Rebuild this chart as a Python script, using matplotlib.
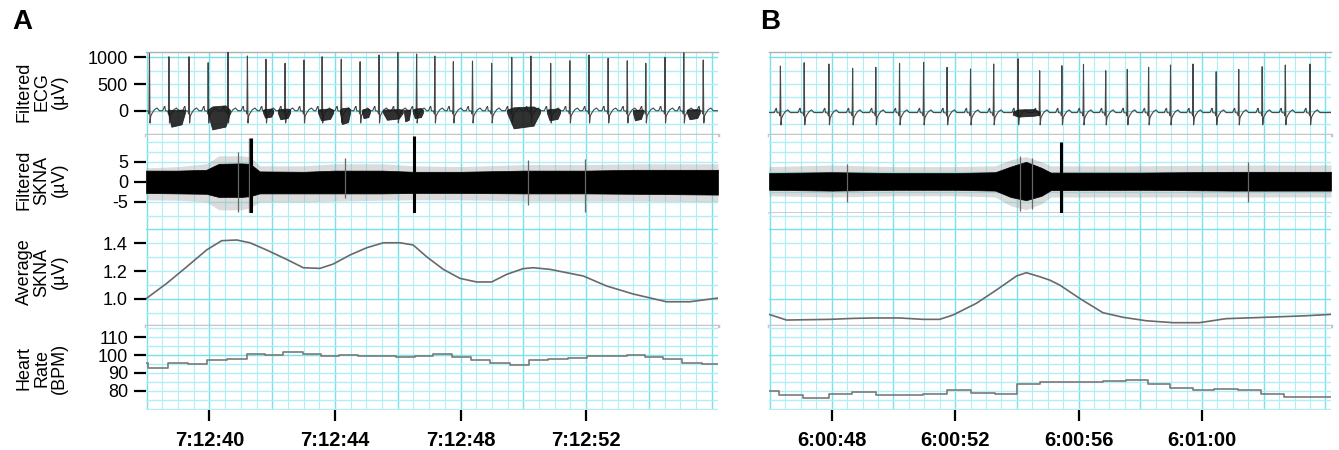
import numpy as np
import matplotlib.pyplot as plt

plt.rcParams['font.family'] = ['Liberation Sans', 'DejaVu Sans']

# ---------------- data (seconds after 7:12:00 for A, after 6:00:00 for B) ----------------
a_xlim = (37.98, 56.2)
b_xlim = (45.97, 64.18)

# R-peak times and R amplitudes (uV)
a_beats = [38.09, 38.71, 39.35, 39.96, 40.59, 41.21, 41.80, 42.41, 43.01, 43.59,
           44.20, 44.80, 45.40, 46.00, 46.60, 47.18, 47.77, 48.38, 48.99, 49.63,
           50.24, 50.87, 51.48, 52.09, 52.70, 53.31, 53.90, 54.51, 55.11, 55.73]
a_r_amp = [1075, 1011, 1011, 899, 1105, 1025, 963, 888, 950, 1011,
           963, 918, 1043, 1105, 1062, 1025, 918, 931, 888, 1000,
           1025, 888, 936, 1043, 981, 936, 888, 1000, 1086, 950]
b_beats = [46.34, 47.11, 47.91, 48.68, 49.43, 50.20, 50.98, 51.74, 52.50, 53.25,
           54.04, 54.74, 55.46, 56.16, 56.88, 57.58, 58.27, 58.98, 59.71, 60.46,
           61.19, 61.95, 62.70, 63.50]
b_r_amp = [837, 899, 875, 794, 813, 888, 907, 813, 781, 875,
           974, 749, 843, 869, 749, 775, 813, 856, 875, 730,
           775, 824, 856, 875]
a_ecg_base = 0
b_ecg_base = -35

# beat shape: offset from R (s) and level (uV); None = R peak
qrs_dt = [-0.20, -0.15, -0.13, -0.11, -0.03, -0.015, 0.0, 0.018, 0.04, 0.09, 0.16, 0.24, 0.32]
qrs_uv = [0, 70, 80, 0, -10, -60, None, -230, -100, -40, 20, 50, 0]

# noisy ECG stretches: start, end, low, high (uV)
a_ecg_noise = [(38.68, 39.22, -300, 20), (39.95, 40.65, -350, 100), (41.71, 42.03, -130, 40),
               (42.18, 42.57, -160, 40), (43.46, 43.94, -180, 40), (44.16, 44.48, -250, 60),
               (44.86, 45.11, -140, 40), (45.53, 46.16, -170, 30), (46.20, 46.39, -200, 20),
               (46.48, 46.80, -140, 50), (49.48, 50.53, -330, 80), (50.75, 51.17, -180, 40),
               (53.49, 53.81, -180, 20), (55.21, 55.62, -160, 30)]
b_ecg_noise = [(53.87, 54.74, -110, 30)]

# filtered SKNA envelopes (uV): dense core and outer spikes
a_skna_t = [37.98, 39.0, 39.9, 40.3, 41.0, 41.3, 41.6, 43.0, 44.0, 45.5, 46.5, 48.0, 50.0, 52.0, 53.5, 56.2]
a_core_hi = [2.8, 2.8, 3.0, 4.5, 4.6, 4.5, 2.6, 2.5, 2.8, 2.8, 2.5, 2.5, 2.8, 2.8, 3.0, 3.0]
a_core_lo = [-2.8, -2.9, -3.0, -3.8, -3.8, -3.6, -2.9, -2.9, -2.9, -2.9, -2.8, -2.8, -2.9, -2.9, -3.0, -3.2]
a_out_hi = [3.5, 3.8, 4.5, 6.5, 6.5, 6.3, 4.0, 4.0, 4.5, 4.5, 4.0, 3.8, 4.3, 4.3, 4.5, 4.5]
a_out_lo = [-4.5, -4.6, -5.0, -7.0, -7.0, -6.5, -5.0, -5.0, -4.8, -4.6, -4.5, -4.5, -4.8, -4.8, -4.8, -5.0]
a_spike_t = [41.32, 46.52]
a_spike_hi = [10.9, 11.5]
a_spike_lo = [-7.8, -7.8]
a_thin_t = [40.9, 41.25, 44.32, 50.14, 51.96]
a_thin_hi = [7.5, 11.0, 6.0, 5.4, 5.8]
a_thin_lo = [-7.5, -7.8, -4.0, -5.8, -7.5]

b_skna_t = [45.97, 48.0, 50.0, 52.0, 53.3, 53.8, 54.3, 54.8, 55.1, 58.0, 61.0, 64.18]
b_core_hi = [2.2, 2.4, 2.2, 2.2, 2.4, 3.8, 5.0, 3.5, 2.3, 2.3, 2.5, 2.5]
b_core_lo = [-2.0, -2.2, -2.0, -2.0, -2.2, -3.8, -4.6, -3.5, -2.1, -2.0, -2.2, -2.2]
b_out_hi = [3.8, 4.2, 3.8, 3.8, 4.0, 5.5, 6.3, 5.0, 4.0, 4.0, 4.2, 4.2]
b_out_lo = [-3.5, -3.8, -3.5, -3.5, -3.8, -6.0, -7.0, -5.5, -3.8, -3.8, -3.8, -3.8]
b_spike_t = [55.44]
b_spike_hi = [10.0]
b_spike_lo = [-7.75]
b_thin_t = [48.5, 54.1, 54.5, 61.5]
b_thin_hi = [4.5, 6.5, 6.0, 5.0]
b_thin_lo = [-5.0, -7.3, -6.8, -5.0]

# average SKNA (uV)
a_avg_t = [37.98, 38.64, 39.28, 39.91, 40.39, 40.87, 41.29, 41.82, 42.46, 42.99, 43.52, 43.94,
           44.48, 45.01, 45.54, 46.07, 46.49, 46.92, 47.45, 47.98, 48.51, 48.99, 49.47, 49.99,
           50.31, 50.85, 51.91, 52.65, 53.5, 54.56, 55.3, 56.2]
a_avg_v = [1.0, 1.111, 1.231, 1.352, 1.419, 1.424, 1.404, 1.352, 1.284, 1.224, 1.219, 1.25,
           1.316, 1.368, 1.404, 1.404, 1.388, 1.303, 1.212, 1.147, 1.121, 1.121, 1.176, 1.217,
           1.224, 1.212, 1.164, 1.092, 1.034, 0.978, 0.978, 1.005]
b_avg_t = [45.97, 46.54, 47.94, 48.70, 49.35, 50.21, 50.96, 51.50, 51.93, 52.69, 53.34, 53.99,
           54.31, 54.74, 55.06, 55.39, 56.03, 56.79, 57.44, 58.19, 59.06, 59.92, 60.78, 62.08,
           63.37, 64.18]
b_avg_v = [0.887, 0.846, 0.851, 0.858, 0.861, 0.861, 0.851, 0.851, 0.882, 0.967, 1.063, 1.164,
           1.188, 1.159, 1.135, 1.099, 1.003, 0.899, 0.866, 0.841, 0.827, 0.827, 0.856, 0.866,
           0.877, 0.887]

# heart rate (BPM), step changes at each beat
a_hr_edges = [37.98, 38.05, 38.69, 39.33, 39.93, 40.55, 41.19, 41.77, 42.35, 42.97, 43.54,
              44.14, 44.74, 45.94, 46.55, 47.13, 47.73, 48.33, 48.94, 49.57, 50.18, 50.78,
              51.42, 52.02, 52.66, 53.30, 53.87, 54.45, 55.05, 55.69, 56.2]
a_hr = [95.5, 93.0, 95.8, 94.9, 97.0, 97.8, 100.4, 100.0, 101.5, 100.4, 99.2, 100.2, 99.6,
        99.0, 99.7, 100.4, 98.9, 97.0, 95.8, 94.4, 97.0, 97.8, 98.5, 99.2, 99.6, 100.0, 98.9,
        97.8, 95.5, 95.1]
b_hr_edges = [45.97, 46.30, 47.08, 47.91, 48.65, 49.43, 50.96, 51.75, 52.50, 53.28, 54.02,
              54.74, 56.79, 57.55, 58.25, 58.95, 59.70, 60.40, 61.16, 61.91, 62.66, 64.18]
b_hr = [79.6, 77.7, 75.8, 78.1, 79.2, 77.7, 78.4, 80.3, 79.0, 78.1, 83.7, 85.0, 85.7, 86.3,
        83.9, 81.8, 80.3, 81.1, 80.3, 78.4, 76.4]

a_xticks = [40, 44, 48, 52]
a_xlabels = ['7:12:40', '7:12:44', '7:12:48', '7:12:52']
b_xticks = [48, 52, 56, 60]
b_xlabels = ['6:00:48', '6:00:52', '6:00:56', '6:01:00']

row_names = ['Filtered\nECG\n(µV)', 'Filtered\nSKNA\n(µV)', 'Average\nSKNA\n(µV)', 'Heart\nRate\n(BPM)']
row_ticks = [[0, 500, 1000], [-5, 0, 5], [1.0, 1.2, 1.4], [80, 90, 100, 110]]
row_ticklabels = [['0', '500', '1000'], ['-5', '0', '5'], ['1.0', '1.2', '1.4'], ['80', '90', '100', '110']]
row_ylim = [(-455, 1100), (-7.8, 11.7), (0.803, 1.619), (69.2, 116.3)]
row_hgrid = [[-250, 0, 250, 500, 750, 1000], [-5, -2.5, 0, 2.5, 5, 7.5, 10],
             [0.9, 1.0, 1.1, 1.2, 1.3, 1.4, 1.5, 1.6], [70, 75, 80, 85, 90, 95, 100, 105, 110, 115]]
row_hmajor = [[0, 1000], [0], [1.0, 1.5], [100]]

# ---------------- figure ----------------
W, H = 1339, 450
fig = plt.figure(figsize=(W / 100, H / 100), dpi=100)
rows_px = [(52, 135), (135, 213), (213, 326), (326, 410)]
grid_minor = '#aeeef4'
grid_major = '#7ae0ea'
sep_gray = '#c6c6c6'


def make_axes(x0, w):
    axes = []
    for top, bot in rows_px:
        ax = fig.add_axes([x0 / W, 1 - bot / H, w / W, (bot - top) / H])
        for s in ax.spines.values():
            s.set_visible(False)
        ax.set_xticks([])
        ax.set_yticks([])
        axes.append(ax)
    return axes


def draw_grid(ax, xlim, hvals, hmaj):
    t = np.arange(np.ceil(xlim[0] * 2) / 2, xlim[1], 0.5)
    for x in t:
        major = abs(x / 2 - round(x / 2)) < 1e-6
        ax.axvline(x, color=grid_major if major else grid_minor, lw=1.0 if major else 0.8, zorder=0)
    for y in hvals:
        ax.axhline(y, color=grid_major if y in hmaj else grid_minor, lw=1.0, zorder=0)


def build_ecg(beats, amps, base, xlim):
    ts, vs = [xlim[0]], [base]
    for b, a in zip(beats, amps):
        for dt, uv in zip(qrs_dt, qrs_uv):
            tt = b + dt
            if xlim[0] < tt < xlim[1]:
                ts.append(tt)
                vs.append(a if uv is None else base + uv)
    ts.append(xlim[1])
    vs.append(base)
    return ts, vs


def draw_panel(x0, w, xlim, beats, amps, base, noise, sk_t, c_hi, c_lo, o_hi, o_lo,
               sp_t, sp_hi, sp_lo, th_t, th_hi, th_lo, avg_t, avg_v, hr_edges, hr,
               xticks, xlabels, labels, mid_sep):
    axes = make_axes(x0, w)
    for i, ax in enumerate(axes):
        ax.set_xlim(*xlim)
        ax.set_ylim(*row_ylim[i])
        draw_grid(ax, xlim, row_hgrid[i], row_hmajor[i])

    ecg, skna, avg, hrax = axes
    # ECG
    ts, vs = build_ecg(beats, amps, base, xlim)
    ecg.plot(ts, vs, color='#474747', lw=0.8, zorder=3)
    for t0, t1, lo, hi in noise:
        d = (t1 - t0) * 0.2
        tt = [t0, t0 + d, t1 - d, t1]
        lo_c = [base - 40, lo, lo * 0.85, base - 40]
        hi_c = [base + 20, hi * 0.8, hi, base + 20]
        ecg.fill_between(tt, lo_c, hi_c, color='#1a1a1a', alpha=0.9, lw=0.6, zorder=4)
    ecg.spines['top'].set_visible(True)
    ecg.spines['top'].set_color('#b0b0b0')
    ecg.spines['top'].set_linewidth(1)
    ecg.spines['bottom'].set_visible(True)
    ecg.spines['bottom'].set_color(sep_gray)
    ecg.spines['bottom'].set_linewidth(2.5)

    # filtered SKNA
    skna.fill_between(sk_t, o_lo, o_hi, color='#9a9a9a', alpha=0.35, lw=0, zorder=2)
    skna.fill_between(sk_t, c_lo, c_hi, color='black', lw=0.5, zorder=3)
    skna.vlines(th_t, th_lo, th_hi, color='#666666', lw=0.9, zorder=3)
    skna.vlines(sp_t, sp_lo, sp_hi, color='black', lw=2.2, zorder=4)
    if mid_sep:
        skna.spines['bottom'].set_visible(True)
        skna.spines['bottom'].set_color(sep_gray)
        skna.spines['bottom'].set_linewidth(1.2)

    # average SKNA
    avg.plot(avg_t, avg_v, color='#6a6a6a', lw=1.2, zorder=3)
    avg.spines['bottom'].set_visible(True)
    avg.spines['bottom'].set_color(sep_gray)
    avg.spines['bottom'].set_linewidth(2.5)

    # heart rate
    hrax.step(hr_edges, hr + [hr[-1]], where='post', color='#7a7a7a', lw=1.2, zorder=3)
    hrax.set_xticks(xticks)
    hrax.set_xticklabels(xlabels, fontsize=14.5, fontweight='bold')
    hrax.tick_params(axis='x', length=8, width=1.6, pad=7, direction='out')

    if labels:
        for i, ax in enumerate(axes):
            ax.set_yticks(row_ticks[i])
            ax.set_yticklabels(row_ticklabels[i], fontsize=13)
            ax.tick_params(axis='y', length=9, width=1.6, pad=4, direction='out')
        for name, yc in zip(row_names, [92, 180, 272, 368]):
            fig.text(42 / W, 1 - yc / H, name, rotation=90, ha='center', va='center',
                     fontsize=13, linespacing=1.05, multialignment='center')


draw_panel(146, 572, a_xlim, a_beats, a_r_amp, a_ecg_base, a_ecg_noise,
           a_skna_t, a_core_hi, a_core_lo, a_out_hi, a_out_lo, a_spike_t, a_spike_hi, a_spike_lo,
           a_thin_t, a_thin_hi, a_thin_lo, a_avg_t, a_avg_v, a_hr_edges, a_hr,
           a_xticks, a_xlabels, True, False)
draw_panel(769, 562, b_xlim, b_beats, b_r_amp, b_ecg_base, b_ecg_noise,
           b_skna_t, b_core_hi, b_core_lo, b_out_hi, b_out_lo, b_spike_t, b_spike_hi, b_spike_lo,
           b_thin_t, b_thin_hi, b_thin_lo, b_avg_t, b_avg_v, b_hr_edges, b_hr,
           b_xticks, b_xlabels, False, True)
fig.text(12 / W, 1 - 22 / H, 'A', fontsize=20, fontweight='bold', ha='left', va='center')
fig.text(760 / W, 1 - 22 / H, 'B', fontsize=20, fontweight='bold', ha='left', va='center')

fig.savefig('out.png', dpi=100)
